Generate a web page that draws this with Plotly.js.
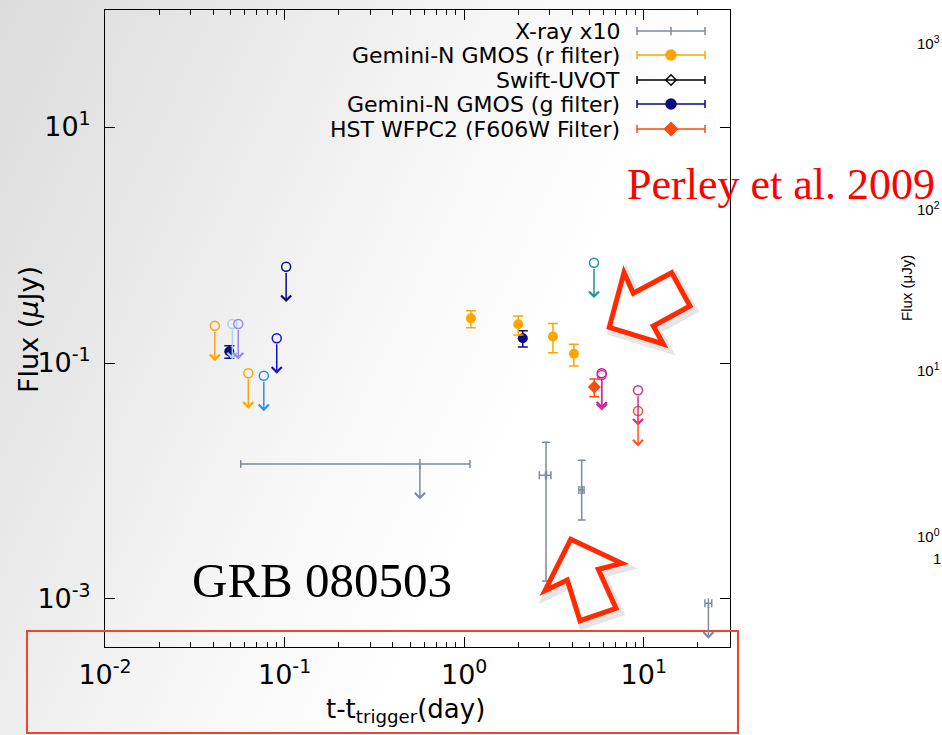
<!DOCTYPE html>
<html><head><meta charset="utf-8">
<script src="https://cdn.plot.ly/plotly-3.0.1.min.js"></script>
<style>
html,body{margin:0;padding:0;width:942px;height:735px;overflow:hidden;
background:linear-gradient(115deg,#dcdcdc 0%,#eaeaea 22%,#f7f7f7 40%,#ffffff 56%);}
#chart{width:942px;height:735px;}
</style></head><body><div id="chart"></div>
<script>
// ---------------- DATA ----------------
// Optical upper limits (open circle + arrow): time (day), flux (uJy)
const ulTime = [0.0409, 0.0512, 0.0552, 0.102, 0.0904, 0.0628, 0.0766, 5.28, 5.83, 5.83, 9.29, 9.29];
const ulFlux = [0.207, 0.214, 0.214, 0.655, 0.162, 0.0818, 0.078, 0.708, 0.0818, 0.079, 0.0588, 0.0392];
// Gemini-N GMOS (r filter)
const rTime = [1.09, 2.0, 3.12, 4.08];
const rFlux = [0.239, 0.213, 0.168, 0.120];
const rHigh = [0.277, 0.250, 0.216, 0.144];
const rLow  = [0.199, 0.173, 0.122, 0.0944];
// Gemini-N GMOS (g filter)
const gTime = [0.0492, 2.12];
const gFlux = [0.125, 0.162];
const gHigh = [0.140, 0.188];
const gLow  = [0.110, 0.137];
// HST WFPC2 (F606W)
const hTime = [5.30];
const hFlux = [0.0626];
const hHigh = [0.0731];
const hLow  = [0.0518];
// X-ray x10 detections
const xrTime  = [2.855, 4.51];
const xrTLow  = [2.62, 4.35];
const xrTHigh = [3.04, 4.65];
const xrFlux  = [0.01117, 0.00839];
const xrHigh  = [0.0213, 0.01496];
const xrLow   = [0.00142, 0.00467];
// X-ray x10 upper limits
const xuTime  = [0.567, 22.9];
const xuTLow  = [0.0570, 21.9];
const xuTHigh = [1.077, 23.9];
const xuFlux  = [0.01393, 0.00092];
// legend labels and tick labels
const legendLabels = ["X-ray x10", "Gemini-N GMOS (r filter)", "Swift-UVOT", "Gemini-N GMOS (g filter)", "HST WFPC2 (F606W Filter)"];
const xTickVals = [0.01, 0.1, 1, 10];
const xTickText = ["10<sup>-2</sup>", "10<sup>-1</sup>", "10<sup>0</sup>", "10<sup>1</sup>"];
const yTickVals = [0.001, 0.1, 10];
const yTickText = ["10<sup>-3</sup>", "10<sup>-1</sup>", "10<sup>1</sup>"];
const rightTicks = ["10<sup>3</sup>", "10<sup>2</sup>", "10<sup>1</sup>", "10<sup>0</sup>"];

// ---------------- STYLE ----------------
const ulColors = ["#ffa500", "#a9d4ec", "#9a86ee", "#0a0a80", "#1010d0", "#ffa500", "#2a8ff0", "#1f9590", "#c8188a", "#d8309a", "#c8309c", "#ff5522"];
const C_X = "#7d8b9c", C_R = "#ffa500", C_S = "#000000", C_G = "#0a0a80", C_H = "#ff4a10";
const PL = 105, PR = 730, PT = 10, PB = 647, W = 942, H = 735;
const ARROW_DEC = 0.3;
const FONT = "DejaVu Sans";
const fx = px => (px - PL) / (PR - PL);
const fy = py => (PB - py) / (PB - PT);
const lg = Math.log10;

function asym(val, hi, lo) {
  return {type: "data", symmetric: false,
    array: val.map((v, i) => hi[i] - v), arrayminus: val.map((v, i) => v - lo[i])};
}

const traces = [];
traces.push({x: xrTime, y: xrFlux, mode: "markers", type: "scatter",
  marker: {symbol: "line-ns", size: 6, color: C_X, line: {color: C_X, width: 2.5}},
  error_y: Object.assign(asym(xrFlux, xrHigh, xrLow), {color: C_X, thickness: 1.5, width: 4}),
  error_x: Object.assign(asym(xrTime, xrTHigh, xrTLow), {color: C_X, thickness: 1.5, width: 4})});
traces.push({x: xuTime, y: xuFlux, mode: "markers", type: "scatter",
  marker: {symbol: "line-ns", size: 7, color: C_X, line: {color: C_X, width: 1.5}},
  error_x: Object.assign(asym(xuTime, xuTHigh, xuTLow), {color: C_X, thickness: 1.5, width: 4})});
traces.push({x: gTime, y: gFlux, mode: "markers", type: "scatter",
  marker: {symbol: "circle", size: 10, color: C_G},
  error_y: Object.assign(asym(gFlux, gHigh, gLow), {color: C_G, thickness: 1.5, width: 5})});
traces.push({x: rTime, y: rFlux, mode: "markers", type: "scatter",
  marker: {symbol: "circle", size: 10, color: C_R},
  error_y: Object.assign(asym(rFlux, rHigh, rLow), {color: C_R, thickness: 1.5, width: 5})});
traces.push({x: hTime, y: hFlux, mode: "markers", type: "scatter",
  marker: {symbol: "diamond", size: 10, color: C_H},
  error_y: Object.assign(asym(hFlux, hHigh, hLow), {color: C_H, thickness: 1.5, width: 5})});
traces.push({x: ulTime, y: ulFlux, mode: "markers", type: "scatter",
  marker: {symbol: "circle-open", size: 9, color: ulColors, line: {width: 1.5, color: ulColors}}});

// ---- custom gnuplot-style key on a hidden pixel-like overlay axis ----
const legRows = [31, 55, 80, 104, 129];
const legMid = 671, legHalf = 34;
const legStyles = [
  {c: C_X, sym: "line-ns", size: 6},
  {c: C_R, sym: "circle", size: 10},
  {c: C_S, sym: "diamond-open", size: 8},
  {c: C_G, sym: "circle", size: 10},
  {c: C_H, sym: "diamond", size: 10}];
legendLabels.forEach((lab, i) => {
  const s = legStyles[i];
  traces.push({x: [legMid], y: [legRows[i]], xaxis: "x2", yaxis: "y2", mode: "markers", type: "scatter",
    marker: {symbol: s.sym, size: s.size, color: s.c, line: {color: s.c, width: 1.5}},
    error_x: {type: "constant", value: legHalf, color: s.c, thickness: 1.5, width: 4}});
});

const annotations = [];
legendLabels.forEach((lab, i) => {
  annotations.push({xref: "x2", yref: "y2", x: 622, y: legRows[i], text: lab, showarrow: false,
    xanchor: "right", yanchor: "middle", font: {family: FONT, size: 22, color: "#000"}});
});
ulTime.forEach((t, i) => {
  annotations.push({xref: "x", yref: "y", axref: "x", ayref: "y",
    x: lg(t), y: lg(ulFlux[i]) - ARROW_DEC, ax: lg(t), ay: lg(ulFlux[i]), text: "",
    showarrow: true, arrowhead: 4, arrowsize: 1.3, arrowwidth: 1.5, arrowcolor: ulColors[i],
    startstandoff: 4.5, standoff: 0});
});
xuTime.forEach((t, i) => {
  annotations.push({xref: "x", yref: "y", axref: "x", ayref: "y",
    x: lg(t), y: lg(xuFlux[i]) - ARROW_DEC, ax: lg(t), ay: lg(xuFlux[i]), text: "",
    showarrow: true, arrowhead: 4, arrowsize: 1.3, arrowwidth: 1.5, arrowcolor: C_X,
    startstandoff: 0, standoff: 0});
});
function txt(px, py, text, font, extra) {
  annotations.push(Object.assign({xref: "paper", yref: "paper", x: fx(px), y: fy(py), text: text,
    showarrow: false, xanchor: "center", yanchor: "middle", font: font}, extra || {}));
}
txt(28, 330, "Flux (<i>μ</i>Jy)", {family: FONT, size: 27, color: "#000"}, {textangle: -90});
txt(405, 710, "t-t<sub>trigger</sub>(day)", {family: FONT, size: 26, color: "#000"});
txt(781, 184, "Perley et al. 2009", {family: "Liberation Serif", size: 44, color: "#ff0000"});
txt(322, 580, "GRB 080503", {family: "Liberation Serif", size: 49, color: "#000"});
// partial neighbouring chart (right edge of slide)
[42, 208, 370, 535].forEach((py, i) => txt(928, py, rightTicks[i], {family: "Liberation Sans", size: 15, color: "#000"}));
txt(937, 558, "1", {family: "Liberation Sans", size: 15, color: "#000"});
txt(906, 288, "Flux (μJy)", {family: "Liberation Sans", size: 15, color: "#000"}, {textangle: -90});

// ---- decorations: red block arrows & red rectangle ----
function pathOf(pts, dx, dy) {
  return pts.map((p, i) => (i ? "L" : "M") + fx(p[0] + dx).toFixed(5) + "," + fy(p[1] + dy).toFixed(5)).join(" ") + " Z";
}
const arrowA = [[671.7, 272.7], [690, 306], [653.3, 326], [663.3, 344], [609.3, 327.3], [624, 272.7], [633.3, 293.3]];
const arrowB = [[570.7, 539.3], [621.7, 563.3], [598.3, 569.3], [616, 608.3], [580, 620.7], [567.3, 580], [545, 590.7]];
const shapes = [];
[arrowA, arrowB].forEach(a => {
  shapes.push({type: "path", xref: "paper", yref: "paper", path: pathOf(a, 3, 4),
    line: {color: "rgba(0,0,0,0.10)", width: 9}, fillcolor: "rgba(0,0,0,0)"});
  shapes.push({type: "path", xref: "paper", yref: "paper", path: pathOf(a, 0, 0),
    line: {color: "#ff2a00", width: 5}, fillcolor: "#ffffff"});
});
shapes.push({type: "rect", xref: "paper", yref: "paper", x0: fx(27), x1: fx(738), y0: fy(631), y1: fy(733),
  line: {color: "#ee4430", width: 2}, fillcolor: "rgba(0,0,0,0)"});

const minorX = [];
[0.01, 0.1, 1, 10].forEach(d => { for (let k = 2; k <= 9; k++) minorX.push(d * k); });

const layout = {
  width: W, height: H,
  margin: {l: PL, r: W - PR, t: PT, b: H - PB, pad: 0},
  paper_bgcolor: "rgba(0,0,0,0)", plot_bgcolor: "rgba(0,0,0,0)",
  showlegend: false,
  font: {family: FONT, color: "#000"},
  xaxis: {type: "log", range: [-2, 1.48], tickmode: "array", tickvals: xTickVals, ticktext: xTickText,
    ticks: "inside", ticklen: 10, tickwidth: 1, tickcolor: "#000", showline: true, linecolor: "#000", linewidth: 1,
    mirror: "ticks", showgrid: false, zeroline: false, ticklabelstandoff: 4,
    tickfont: {family: FONT, size: 27, color: "#000"},
    minor: {tickmode: "array", tickvals: minorX, ticks: "inside", ticklen: 5, tickcolor: "#000", showgrid: false}},
  yaxis: {type: "log", range: [-3.407, 1.992], tickmode: "array", tickvals: yTickVals, ticktext: yTickText,
    ticks: "inside", ticklen: 10, tickwidth: 1, tickcolor: "#000", showline: true, linecolor: "#000", linewidth: 1,
    mirror: "ticks", showgrid: false, zeroline: false, ticklabelstandoff: 8,
    tickfont: {family: FONT, size: 27, color: "#000"}},
  xaxis2: {overlaying: "x", anchor: "y2", range: [PL, PR], visible: false, fixedrange: true},
  yaxis2: {overlaying: "y", anchor: "x2", range: [PB, PT], visible: false, fixedrange: true},
  annotations: annotations,
  shapes: shapes
};
Plotly.newPlot("chart", traces, layout, {staticPlot: true, displayModeBar: false});
</script></body></html>
